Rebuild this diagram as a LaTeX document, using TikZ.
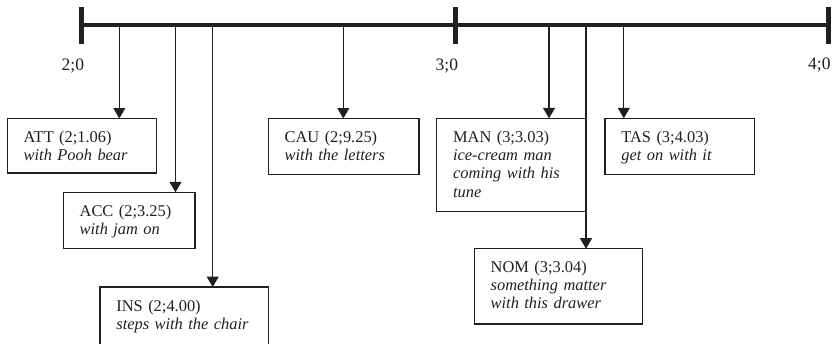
\documentclass[tikz,border=0pt]{standalone}
\usepackage{fontspec}
\setmainfont{Liberation Serif}
\usetikzlibrary{arrows.meta}
\definecolor{ink}{RGB}{35,31,32}
\begin{document}
\begin{tikzpicture}[x=1pt,y=-1pt,
  tlline/.style={line width=4.3pt, draw=ink},
  tlmark/.style={line width=5pt, draw=ink},
  arr/.style={draw=ink, line width=1.2pt, -{Triangle[width=12pt,length=10.5pt]}},
  bx/.style={draw=ink, line width=1.2pt, anchor=north west, inner sep=0pt, outer sep=0pt},
  txt/.style={anchor=base west, align=left, inner sep=0pt, text width=160pt, font=\fontsize{16.4}{18.4}\selectfont, text=ink},
  lab/.style={anchor=base east, inner sep=0pt, font=\fontsize{17.5}{20}\selectfont, text=ink}]
\useasboundingbox (0,0) rectangle (835,343);

% timeline
\coordinate (t2) at (81.7,25.2);
\coordinate (t3) at (455.8,25.2);
\coordinate (t4) at (828,25.2);
\draw[tlline] (t2) -- (t4);
\foreach \t in {t2,t3,t4}{
  \draw[tlmark] ([yshift=18.3pt]\t) -- ([yshift=-18.3pt]\t);
}
\node[lab] (l2) at (84.2,70) {2;0};
\node[lab] (l3) at (458.3,70) {3;0};
\node[lab] (l4) at (830.7,69.5) {4;0};

% boxes
\node[bx, minimum width=149.4pt, minimum height=54.5pt] (att) at (7.3,118.5) {};
\node[bx, minimum width=131.7pt, minimum height=56pt] (acc) at (63.3,192.3) {};
\node[bx, minimum width=168.3pt, minimum height=60pt] (ins) at (100,287) {};
\node[bx, minimum width=150.7pt, minimum height=55.8pt] (cau) at (268.3,118.5) {};
\node[bx, minimum width=149.3pt, minimum height=93.4pt] (man) at (436.7,118.3) {};
\node[bx, minimum width=149.3pt, minimum height=56pt] (tas) at (605,118.3) {};
\node[bx, minimum width=168.4pt, minimum height=75.3pt] (nom) at (474.3,248.7) {};

% texts
\node[txt] (att-t) at ([xshift=16.2pt,yshift=-23.7pt]att.north west) {ATT (2;1.06)\\\textit{with Pooh bear}};
\node[txt] (acc-t) at ([xshift=16.2pt,yshift=-23.7pt]acc.north west) {ACC (2;3.25)\\\textit{with jam on}};
\node[txt] (ins-t) at ([xshift=16.2pt,yshift=-24.5pt]ins.north west) {INS (2;4.00)\\\textit{steps with the chair}};
\node[txt] (cau-t) at ([xshift=16.2pt,yshift=-23.7pt]cau.north west) {CAU (2;9.25)\\\textit{with the letters}};
\node[txt] (man-t) at ([xshift=16.2pt,yshift=-23.7pt]man.north west) {MAN (3;3.03)\\\textit{ice-cream man}\\\textit{coming with his}\\\textit{tune}};
\node[txt] (tas-t) at ([xshift=16.2pt,yshift=-23.7pt]tas.north west) {TAS (3;4.03)\\\textit{get on with it}};
\node[txt] (nom-t) at ([xshift=16.2pt,yshift=-23.4pt]nom.north west) {NOM (3;3.04)\\\textit{something matter}\\\textit{with this drawer}};

% arrows
\coordinate (sATT) at (119.3,25.2);
\coordinate (sACC) at (175.5,25.2);
\coordinate (sINS) at (212.7,25.2);
\coordinate (sCAU) at (343.3,25.2);
\coordinate (sMAN) at (549,25.2);
\coordinate (sNOM) at (586,25.2);
\coordinate (sTAS) at (623.8,25.2);
\draw[arr] (sATT) -- (sATT |- att.north);
\draw[arr] (sACC) -- (sACC |- acc.north);
\draw[arr] (sINS) -- (sINS |- ins.north);
\draw[arr] (sCAU) -- (sCAU |- cau.north);
\draw[arr] (sMAN) -- (sMAN |- man.north);
\draw[arr] (sNOM) -- (sNOM |- nom.north);
\draw[arr] (sTAS) -- (sTAS |- tas.north);
\end{tikzpicture}
\end{document}
